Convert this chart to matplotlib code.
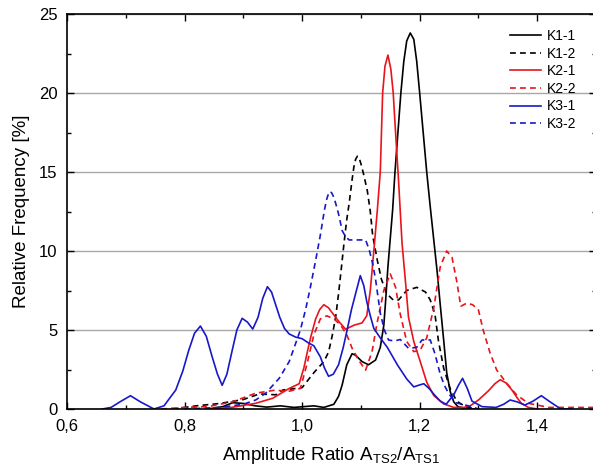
import matplotlib
matplotlib.use('Agg')
import matplotlib.pyplot as plt
from matplotlib.ticker import MultipleLocator, FuncFormatter

plt.rcParams['font.family'] = ['Liberation Sans', 'DejaVu Sans']
plt.rcParams['mathtext.default'] = 'regular'

# K1-1 (schwarz, durchgezogen)
k1_1_x = [0.84, 0.865, 0.882, 0.90, 0.92, 0.94, 0.963, 0.986, 1.02, 1.037, 1.054, 1.062, 1.068,
          1.076, 1.085, 1.091, 1.102, 1.113, 1.125, 1.133, 1.139, 1.142, 1.146, 1.150, 1.154,
          1.158, 1.163, 1.168, 1.173, 1.178, 1.184, 1.190, 1.195, 1.200, 1.206, 1.212, 1.218,
          1.224, 1.230, 1.235, 1.241, 1.246, 1.252, 1.258, 1.265, 1.28, 1.30]
k1_1_y = [0, 0.15, 0.4, 0.35, 0.2, 0.12, 0.2, 0.1, 0.2, 0.1, 0.3, 0.8, 1.5,
          2.8, 3.5, 3.4, 3.0, 2.8, 3.1, 3.9, 5.3, 6.8, 9.0, 10.8, 12.6,
          15.0, 17.5, 20.0, 22.0, 23.3, 23.8, 23.4, 22.0, 20.0, 17.5, 15.0, 12.8,
          10.7, 8.6, 6.6, 4.3, 2.3, 1.1, 0.45, 0.15, 0.02, 0]

# K1-2 (schwarz, gestrichelt)
k1_2_x = [0.78, 0.82, 0.86, 0.90, 0.927, 0.955, 0.967, 0.989, 1.0, 1.02, 1.037, 1.045, 1.051,
          1.057, 1.062, 1.067, 1.071, 1.076, 1.080, 1.085, 1.088, 1.091, 1.094, 1.097, 1.101,
          1.105, 1.111, 1.116, 1.120, 1.128, 1.135, 1.144, 1.155, 1.164, 1.178, 1.195, 1.21,
          1.218, 1.226, 1.232, 1.241, 1.252, 1.263, 1.28, 1.30]
k1_2_y = [0, 0.2, 0.35, 0.6, 0.95, 0.9, 1.2, 1.3, 1.35, 2.3, 3.0, 3.6, 4.6,
          5.8, 7.3, 9.0, 10.4, 12.0, 13.0, 14.5, 15.3, 15.8, 16.0, 15.9, 15.4,
          14.8, 13.8, 12.5, 11.0, 9.4, 8.2, 7.3, 6.9, 6.9, 7.5, 7.7, 7.4,
          6.9, 6.0, 4.3, 2.56, 1.28, 0.5, 0.1, 0]

# K2-1 (rot, durchgezogen)
k2_1_x = [0.84, 0.88, 0.921, 0.95, 0.978, 0.995, 1.003, 1.010, 1.015, 1.023, 1.030, 1.037,
          1.045, 1.051, 1.062, 1.074, 1.088, 1.102, 1.110, 1.116, 1.122, 1.128, 1.133, 1.137,
          1.141, 1.146, 1.151, 1.155, 1.159, 1.164, 1.170, 1.176, 1.181, 1.19, 1.201, 1.212,
          1.224, 1.241, 1.258, 1.275, 1.286, 1.30, 1.317, 1.328, 1.337, 1.347, 1.357, 1.366,
          1.373, 1.385, 1.40]
k2_1_y = [0, 0.1, 0.36, 0.68, 1.3, 1.6, 2.6, 3.8, 4.6, 5.7, 6.3, 6.6,
          6.4, 6.1, 5.56, 5.05, 5.3, 5.45, 5.9, 7.5, 10.0, 12.6, 15.0, 20.0,
          21.7, 22.4, 21.5, 20.0, 17.5, 14.5, 10.5, 8.0, 5.8, 4.27, 3.0, 1.7,
          0.85, 0.32, 0.1, 0.1, 0.2, 0.57, 1.15, 1.6, 1.85, 1.65, 1.2, 0.7,
          0.36, 0.1, 0]

# K2-2 (rot, gestrichelt)
k2_2_x = [0.76, 0.80, 0.84, 0.882, 0.921, 0.955, 0.975, 0.997, 1.008, 1.02, 1.031, 1.042,
          1.054, 1.065, 1.076, 1.085, 1.096, 1.108, 1.119, 1.127, 1.139, 1.15, 1.159, 1.167,
          1.178, 1.19, 1.201, 1.212, 1.224, 1.235, 1.246, 1.255, 1.263, 1.27, 1.28, 1.29,
          1.30, 1.308, 1.32, 1.331, 1.348, 1.365, 1.385, 1.42, 1.5]
k2_2_y = [0, 0.1, 0.15, 0.46, 1.0, 1.2, 1.1, 1.3, 2.8, 4.7, 5.7, 5.9,
          5.7, 5.34, 4.7, 3.85, 3.1, 2.46, 3.63, 5.34, 7.5, 8.55, 7.7, 6.0,
          4.27, 3.63, 3.74, 4.5, 6.4, 9.0, 10.0, 9.6, 8.1, 6.5, 6.7, 6.6,
          6.27, 5.0, 3.52, 2.47, 1.63, 0.89, 0.36, 0.1, 0.1]

# K3-1 (blau, durchgezogen)
k3_1_x = [0.66, 0.675, 0.69, 0.708, 0.725, 0.748, 0.765, 0.785, 0.797, 0.807, 0.817, 0.827,
          0.837, 0.847, 0.856, 0.864, 0.872, 0.881, 0.889, 0.898, 0.907, 0.916, 0.925, 0.933,
          0.941, 0.948, 0.955, 0.962, 0.970, 0.978, 0.989, 1.0, 1.010, 1.020, 1.031, 1.038,
          1.045, 1.053, 1.062, 1.070, 1.076, 1.084, 1.091, 1.099, 1.105, 1.110, 1.116, 1.122,
          1.133, 1.145, 1.162, 1.178, 1.19, 1.198, 1.207, 1.216, 1.225, 1.235, 1.245, 1.258,
          1.266, 1.273, 1.281, 1.289, 1.306, 1.33, 1.343, 1.354, 1.366, 1.379, 1.393, 1.407,
          1.42, 1.44, 1.46]
k3_1_y = [0, 0.1, 0.45, 0.84, 0.45, 0, 0.2, 1.2, 2.4, 3.7, 4.8, 5.25,
          4.6, 3.3, 2.2, 1.5, 2.2, 3.7, 5.0, 5.74, 5.5, 5.06, 5.8, 7.0,
          7.74, 7.4, 6.6, 5.8, 5.1, 4.75, 4.55, 4.45, 4.2, 4.0, 3.3, 2.6,
          2.07, 2.2, 2.8, 3.9, 4.9, 6.3, 7.3, 8.44, 7.8, 6.8, 5.9, 5.1,
          4.5, 3.9, 2.8, 1.9, 1.4, 1.5, 1.6, 1.3, 0.9, 0.5, 0.3, 0.9,
          1.5, 1.94, 1.3, 0.5, 0.15, 0.1, 0.3, 0.57, 0.45, 0.25, 0.5, 0.84,
          0.5, 0.0, 0]

# K3-2 (blau, gestrichelt)
k3_2_x = [0.80, 0.86, 0.90, 0.921, 0.938, 0.961, 0.978, 0.989, 0.997, 1.006, 1.014, 1.023,
          1.031, 1.038, 1.042, 1.046, 1.050, 1.054, 1.058, 1.063, 1.068, 1.074, 1.080, 1.095,
          1.108, 1.114, 1.120, 1.125, 1.133, 1.140, 1.147, 1.157, 1.167, 1.181, 1.195, 1.204,
          1.218, 1.226, 1.235, 1.242, 1.249, 1.261, 1.283, 1.30]
k3_2_y = [0, 0.1, 0.3, 0.57, 1.0, 1.94, 3.0, 4.15, 5.0, 6.3, 7.7, 9.4,
          11.0, 12.6, 13.3, 13.75, 13.7, 13.4, 12.9, 12.2, 11.3, 10.9, 10.7, 10.7,
          10.7, 10.1, 9.2, 8.2, 6.06, 5.0, 4.37, 4.3, 4.4, 3.84, 3.9, 4.37,
          4.37, 3.5, 2.2, 1.5, 1.0, 0.4, 0.2, 0]

labels = ['K1-1', 'K1-2', 'K2-1', 'K2-2', 'K3-1', 'K3-2']

BLACK = '#000000'
RED = '#e8141c'
BLUE = '#1818c8'
DASH = (3.5, 2.5)

fig = plt.figure(figsize=(5.93, 4.75), dpi=100)
ax = fig.add_axes([67 / 593, 66 / 475, 529 / 593, 395 / 475])

series = [
    (k1_1_x, k1_1_y, BLACK, False),
    (k1_2_x, k1_2_y, BLACK, True),
    (k2_1_x, k2_1_y, RED, False),
    (k2_2_x, k2_2_y, RED, True),
    (k3_1_x, k3_1_y, BLUE, False),
    (k3_2_x, k3_2_y, BLUE, True),
]
for (xs, ys, col, dashed), lab in zip(series, labels):
    line, = ax.plot(xs, ys, color=col, lw=1.2, label=lab)
    if dashed:
        line.set_dashes(DASH)

ax.set_xlim(0.6, 1.5)
ax.set_ylim(0, 25)
ax.xaxis.set_major_locator(MultipleLocator(0.2))
ax.xaxis.set_minor_locator(MultipleLocator(0.1))
ax.yaxis.set_major_locator(MultipleLocator(5))
ax.yaxis.set_minor_locator(MultipleLocator(2.5))
ax.xaxis.set_major_formatter(FuncFormatter(lambda v, p: f'{v:.1f}'.replace('.', ',')))

ax.yaxis.grid(True, color='#a8a8a8', lw=1.0)
ax.set_axisbelow(True)

ax.tick_params(which='both', direction='in', top=True, right=True, width=1.0,
               labelsize=12, pad=7)
ax.tick_params(which='major', length=5)
ax.tick_params(which='minor', length=3)
for sp in ax.spines.values():
    sp.set_linewidth(1.2)

ax.set_xlabel('Amplitude Ratio A$_{TS2}$/A$_{TS1}$', fontsize=13.5, labelpad=8)
ax.set_ylabel('Relative Frequency [%]', fontsize=13.5, labelpad=6)

ax.legend(loc='upper left', bbox_to_anchor=(0.838, 0.962), frameon=False, fontsize=10,
          borderaxespad=0, borderpad=0, handlelength=2.2, handletextpad=0.4,
          labelspacing=0.26)

fig.savefig('out.png', dpi=100)
